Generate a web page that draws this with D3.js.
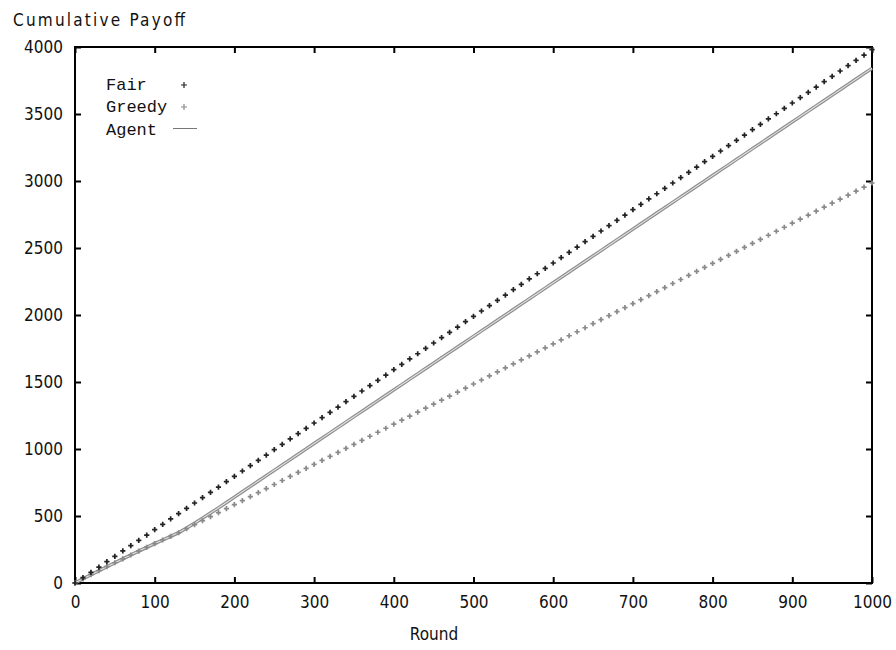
<!DOCTYPE html>
<html>
<head>
<meta charset="utf-8">
<script src="https://cdn.jsdelivr.net/npm/d3@7"></script>
<style>
  body { margin: 0; background: #fff; }
  svg { display: block; }
  .tick text { font-family: "DejaVu Sans Condensed", "DejaVu Sans", sans-serif; font-size: 17px; fill: #111; }
  .lbl { font-family: "DejaVu Sans Condensed", "DejaVu Sans", sans-serif; font-size: 17px; fill: #111; }
  .leg { font-family: "Liberation Mono", "Courier New", monospace; font-size: 17px; fill: #111; }
</style>
</head>
<body>
<svg id="chart" width="896" height="650"></svg>
<script>
// ------- données (un point tous les 10 rounds) -------
let rounds = [0,10,20,30,40,50,60,70,80,90,100,110,120,130,140,150,160,170,180,190,
  200,210,220,230,240,250,260,270,280,290,300,310,320,330,340,350,360,370,380,390,
  400,410,420,430,440,450,460,470,480,490,500,510,520,530,540,550,560,570,580,590,
  600,610,620,630,640,650,660,670,680,690,700,710,720,730,740,750,760,770,780,790,
  800,810,820,830,840,850,860,870,880,890,900,910,920,930,940,950,960,970,980,990,1000];

let fair = [0,40,80,119,159,199,239,279,318,358,398,438,478,517,557,597,637,677,716,756,
  796,836,876,915,955,995,1035,1075,1114,1154,1194,1234,1274,1313,1353,1393,1433,1473,1512,1552,
  1592,1632,1672,1711,1751,1791,1831,1871,1910,1950,1990,2030,2070,2109,2149,2189,2229,2269,2308,2348,
  2388,2428,2468,2507,2547,2587,2627,2667,2706,2746,2786,2826,2866,2905,2945,2985,3025,3065,3104,3144,
  3184,3224,3264,3303,3343,3383,3423,3463,3502,3542,3582,3622,3662,3701,3741,3781,3821,3861,3900,3940,3980];

let greedy = [0,31,62,92,122,151,180,209,238,266,294,321,348,375,405,435,465,495,525,555,
  585,615,645,675,705,735,765,795,825,855,885,915,945,975,1005,1035,1065,1095,1125,1155,
  1185,1215,1245,1275,1305,1335,1365,1395,1425,1455,1485,1515,1545,1575,1605,1635,1665,1695,1725,1755,
  1785,1815,1845,1875,1905,1935,1965,1995,2025,2055,2085,2115,2145,2175,2205,2235,2265,2295,2325,2355,
  2385,2415,2445,2475,2505,2535,2565,2595,2625,2655,2685,2715,2745,2775,2805,2835,2865,2895,2925,2955,2985];

let agent = [0,31,62,92,122,151,180,209,238,266,294,321,348,376,410,446,484,522,561,601,
  641,681,721,761,801,841,881,921,961,1001,1041,1081,1121,1161,1201,1241,1281,1321,1361,1401,
  1441,1481,1521,1561,1601,1641,1681,1721,1761,1801,1841,1881,1921,1961,2001,2041,2081,2121,2161,2201,
  2241,2281,2321,2361,2401,2441,2481,2521,2561,2601,2641,2681,2721,2761,2801,2841,2881,2921,2961,3001,
  3041,3081,3121,3161,3201,3241,3281,3321,3361,3401,3441,3481,3521,3561,3601,3641,3681,3721,3761,3801,3841];

let xTicks = [0,100,200,300,400,500,600,700,800,900,1000];
let yTicks = [0,500,1000,1500,2000,2500,3000,3500,4000];

let legendItems = [
  { label: "Fair",   kind: "plus", color: "#222" },
  { label: "Greedy", kind: "plus", color: "#8a8a8a" },
  { label: "Agent",  kind: "line", color: "#777" }
];

// ------- dessin -------
let svg = d3.select("#chart");
let gLeft = 75, gRight = 872, gTop = 47, gBottom = 583;

let x = d3.scaleLinear().domain([0, 1000]).range([gLeft, gRight]);
let y = d3.scaleLinear().domain([0, 4000]).range([gBottom, gTop]);

// axes (ticks vers l'intérieur, comme gnuplot)
let axB = svg.append("g").attr("transform", `translate(0,${gBottom})`)
  .call(d3.axisBottom(x).tickValues(xTicks).tickSize(-6).tickPadding(16).tickFormat(d3.format("d")));
let axT = svg.append("g").attr("transform", `translate(0,${gTop})`)
  .call(d3.axisTop(x).tickValues(xTicks).tickSize(-6).tickFormat(""));
let axL = svg.append("g").attr("transform", `translate(${gLeft},0)`)
  .call(d3.axisLeft(y).tickValues(yTicks).tickSize(-6).tickPadding(12).tickFormat(d3.format("d")));
let axR = svg.append("g").attr("transform", `translate(${gRight},0)`)
  .call(d3.axisRight(y).tickValues(yTicks).tickSize(-6).tickFormat(""));

[axB, axT, axL, axR].forEach(a => {
  a.select(".domain").remove();
  a.selectAll(".tick line").attr("stroke", "#000").attr("stroke-width", 2);
});
axB.selectAll(".tick text").attr("dy", "0.55em");

svg.append("rect")
  .attr("x", gLeft).attr("y", gTop)
  .attr("width", gRight - gLeft).attr("height", gBottom - gTop)
  .attr("fill", "none").attr("stroke", "#000").attr("stroke-width", 2);

let pts = (vals) => rounds.map((r, i) => ({ r, v: vals[i] }));

// ligne Agent (double trait gris)
let line = d3.line().x(d => x(d.r)).y(d => y(d.v));
svg.append("path").datum(pts(agent))
  .attr("d", line).attr("fill", "none").attr("stroke", "#8c8c8c").attr("stroke-width", 3.4);
svg.append("path").datum(pts(agent))
  .attr("d", line).attr("fill", "none").attr("stroke", "#e2e2e2").attr("stroke-width", 1.1);

// marqueurs "+"
let plusPath = (cx, cy, s) => `M${cx - s},${cy}H${cx + s}M${cx},${cy - s}V${cy + s}`;

function drawPlus(vals, color){
  svg.append("g").selectAll("path")
    .data(pts(vals))
    .join("path")
    .attr("d", d => plusPath(x(d.r), y(d.v), 2.6))
    .attr("stroke", color).attr("stroke-width", 1.7).attr("fill", "none");
}
drawPlus(greedy, "#8a8a8a");
drawPlus(fair, "#222");

// titres
svg.append("text").attr("class", "lbl")
  .attr("x", 13).attr("y", 26)
  .attr("textLength", 172).attr("lengthAdjust", "spacing")
  .text("Cumulative Payoff");
svg.append("text").attr("class", "lbl")
  .attr("x", 434).attr("y", 640).attr("text-anchor", "middle")
  .text("Round");

// légende
let legY = [85, 107, 130];
legendItems.forEach((d, i) => {
  svg.append("text").attr("class", "leg")
    .attr("x", 106).attr("y", legY[i] + 5)
    .text(d.label);
  if (d.kind === "plus") {
    svg.append("path").attr("d", plusPath(184, legY[i], 3))
      .attr("stroke", d.color).attr("stroke-width", 1.2).attr("fill", "none");
  } else {
    svg.append("line")
      .attr("x1", 173).attr("x2", 197).attr("y1", legY[i] - 1.5).attr("y2", legY[i] - 1.5)
      .attr("stroke", d.color).attr("stroke-width", 1);
  }
});
</script>
</body>
</html>
